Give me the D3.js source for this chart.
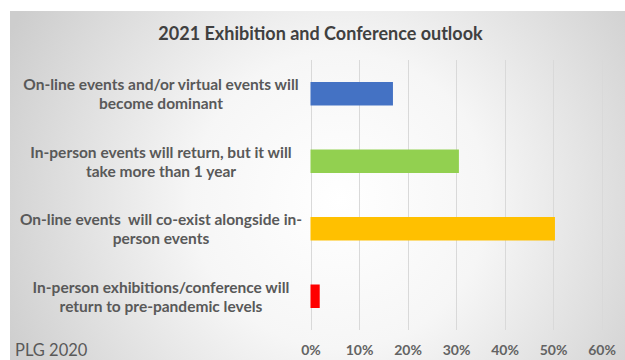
<!DOCTYPE html>
<html>
<head>
<meta charset="utf-8">
<script src="https://cdn.jsdelivr.net/npm/d3@7"></script>
<style>
  html, body { margin: 0; padding: 0; background: #ffffff; }
  svg { display: block; }
</style>
</head>
<body>
<svg id="chart" width="625" height="360"></svg>
<script>
// Survey answers, top to bottom, with share of respondents (fraction)
const categories = [
  ["On-line events and/or virtual events will", "become dominant"],
  ["In-person events will return, but it will", "take more than 1 year"],
  ["On-line events  will co-exist alongside in-", "person events"],
  ["In-person exhibitions/conference will", "return to pre-pandemic levels"]
];
const values = [0.17, 0.306, 0.504, 0.019];
const barColors = ["#4472C4", "#92D050", "#FFC000", "#FF0000"];
const tickValues = [0, 0.1, 0.2, 0.3, 0.4, 0.5, 0.6];
const titleText = "2021 Exhibition and Conference outlook";
const sourceText = "PLG 2020";

const svg = d3.select("#chart");
const W = 625, H = 360;

// Panel background: soft radial fade from white centre to grey edges
const defs = svg.append("defs");
const grad = defs.append("radialGradient")
  .attr("id", "panelGrad")
  .attr("gradientUnits", "userSpaceOnUse")
  .attr("cx", 340).attr("cy", 200).attr("r", 370);
grad.append("stop").attr("offset", "0%").attr("stop-color", "#ffffff");
grad.append("stop").attr("offset", "40%").attr("stop-color", "#f6f6f6");
grad.append("stop").attr("offset", "100%").attr("stop-color", "#cdcdcd");

svg.append("rect")
  .attr("x", 10).attr("y", 11)
  .attr("width", W - 10).attr("height", H - 11)
  .attr("fill", "url(#panelGrad)");

const fontFamily = "Lato, 'Open Sans', sans-serif";

// Plot area
const plot = { left: 310.5, right: 601.5, top: 60, bottom: 330 };

const x = d3.scaleLinear()
  .domain([0, 0.6])
  .range([plot.left, plot.right]);

const y = d3.scaleBand()
  .domain(d3.range(categories.length))
  .range([plot.top, plot.bottom])
  .paddingInner(0.652)
  .paddingOuter(0.326);

// Vertical gridlines
svg.append("g")
  .selectAll("line")
  .data(tickValues)
  .join("line")
  .attr("x1", d => Math.round(x(d)) + 0.5)
  .attr("x2", d => Math.round(x(d)) + 0.5)
  .attr("y1", plot.top)
  .attr("y2", plot.bottom)
  .attr("stroke", "#d9d9d9")
  .attr("stroke-width", 1);

// Bars
svg.append("g")
  .selectAll("rect")
  .data(values)
  .join("rect")
  .attr("x", x(0))
  .attr("y", (d, i) => y(i))
  .attr("width", d => x(d) - x(0))
  .attr("height", y.bandwidth())
  .attr("fill", (d, i) => barColors[i]);

// X axis tick labels
const xAxis = d3.axisBottom(x)
  .tickValues(tickValues)
  .tickFormat(d3.format(".0%"))
  .tickSize(0)
  .tickPadding(0);

const axisG = svg.append("g")
  .attr("transform", `translate(0, ${plot.bottom + 20})`)
  .call(xAxis);
axisG.select(".domain").remove();
axisG.selectAll("text")
  .attr("dy", "0.35em")
  .attr("font-family", fontFamily)
  .attr("font-size", 14)
  .attr("font-weight", 700)
  .attr("fill", "#636363");

// Category labels (two lines, centred on each bar)
const labelX = 161;
const lineGap = 19;
const labelG = svg.append("g");
categories.forEach((lines, i) => {
  const cy = y(i) + y.bandwidth() / 2;
  const t = labelG.append("text")
    .attr("x", labelX)
    .attr("y", cy - lineGap / 2)
    .attr("text-anchor", "middle")
    .attr("dominant-baseline", "central")
    .attr("font-family", fontFamily)
    .attr("font-size", 15.5)
    .attr("font-weight", 700)
    .attr("fill", "#595959");
  lines.forEach((ln, k) => {
    t.append("tspan")
      .attr("x", labelX)
      .attr("dy", k === 0 ? 0 : lineGap)
      .attr("xml:space", "preserve")
      .text(ln);
  });
});

// Title
svg.append("text")
  .attr("x", 320.5)
  .attr("y", 33)
  .attr("text-anchor", "middle")
  .attr("dominant-baseline", "central")
  .attr("font-family", fontFamily)
  .attr("font-size", 18)
  .attr("font-weight", 700)
  .attr("fill", "#404040")
  .text(titleText);

// Source note
svg.append("text")
  .attr("x", 15)
  .attr("y", 350)
  .attr("dominant-baseline", "central")
  .attr("font-family", fontFamily)
  .attr("font-size", 16.5)
  .attr("fill", "#595959")
  .text(sourceText);
</script>
</body>
</html>
